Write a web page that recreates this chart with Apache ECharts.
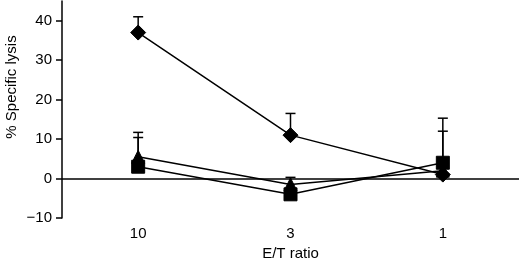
<!DOCTYPE html>
<html><head><meta charset="utf-8">
<script src="https://cdn.jsdelivr.net/npm/echarts@6/dist/echarts.min.js"></script>
<style>html,body{margin:0;padding:0;background:#fff}#c{width:520px;height:261px}</style>
</head><body><div id="c"></div>
<script>
const categories = ['10', '3', '1'];
const diamond = [37, 11, 1];
const diamondErr = [4, 5.5, 0];
const triangle = [5.5, -1.5, 2];
const triangleErr = [6.2, 1.8, 10];
const square = [3, -4, 4];
const squareErr = [7.4, 0, 11.3];
const yTicks = [-10, 0, 10, 20, 30, 40];

const FONT = 'Liberation Sans';
function errSeries(vals, errs) {
  return {
    type: 'custom', silent: true, z: 1,
    data: vals.map((v, i) => [i, v, errs[i]]),
    renderItem: function (params, api) {
      const i = api.value(0), v = api.value(1), e = api.value(2);
      if (!e) return null;
      const p0 = api.coord([i, v]);
      const p1 = api.coord([i, v + e]);
      const style = { stroke: '#000', lineWidth: 1.5 };
      return { type: 'group', children: [
        { type: 'line', shape: { x1: p0[0], y1: p0[1], x2: p1[0], y2: p1[1] }, style },
        { type: 'line', shape: { x1: p1[0] - 5, y1: p1[1], x2: p1[0] + 5, y2: p1[1] }, style }
      ]};
    }
  };
}
function lineSeries(vals, symbol, size) {
  return {
    type: 'line', data: vals, symbol: symbol, symbolSize: size, z: 3,
    lineStyle: { color: '#000', width: 1.5 },
    itemStyle: { color: '#000', borderColor: '#000' }
  };
}
const chart = echarts.init(document.getElementById('c'));
chart.setOption({
  animation: false,
  grid: { left: 62, right: 1, top: 1, bottom: 43, outerBoundsMode: 'none', containLabel: false },
  xAxis: {
    type: 'category', data: categories, boundaryGap: true,
    axisLine: { show: false }, axisTick: { show: false },
    axisLabel: { color: '#000', fontFamily: FONT, fontSize: 15, margin: 8 },
    name: 'E/T ratio', nameLocation: 'middle', nameGap: 27,
    nameTextStyle: { color: '#000', fontFamily: FONT, fontSize: 15 }
  },
  yAxis: {
    type: 'value', min: -10, max: 45, interval: 10,
    splitLine: { show: false },
    axisLine: { show: true, lineStyle: { color: '#000', width: 1.5 } },
    axisTick: { show: true, inside: false, length: 6, lineStyle: { color: '#000', width: 1.5 },
      customValues: yTicks },
    axisLabel: { color: '#000', fontFamily: FONT, fontSize: 15, margin: 10,
      customValues: yTicks,
      formatter: v => (v < 0 ? '\u2212' + Math.abs(v) : String(v)) }
  },
  graphic: [{
    type: 'text', x: 12, y: 87, rotation: Math.PI / 2,
    style: { text: '% Specific lysis', fill: '#000', font: '15px "' + FONT + '"',
      align: 'center', verticalAlign: 'middle' }
  }],
  series: [
    errSeries(diamond, diamondErr),
    errSeries(triangle, triangleErr),
    errSeries(square, squareErr),
    Object.assign(lineSeries(diamond, 'diamond', 15), {
      markLine: { silent: true, symbol: 'none', label: { show: false },
        lineStyle: { color: '#000', width: 1.5, type: 'solid' },
        data: [{ yAxis: 0 }] }
    }),
    lineSeries(triangle, 'triangle', 13),
    lineSeries(square, 'rect', 13)
  ]
});
</script></body></html>
